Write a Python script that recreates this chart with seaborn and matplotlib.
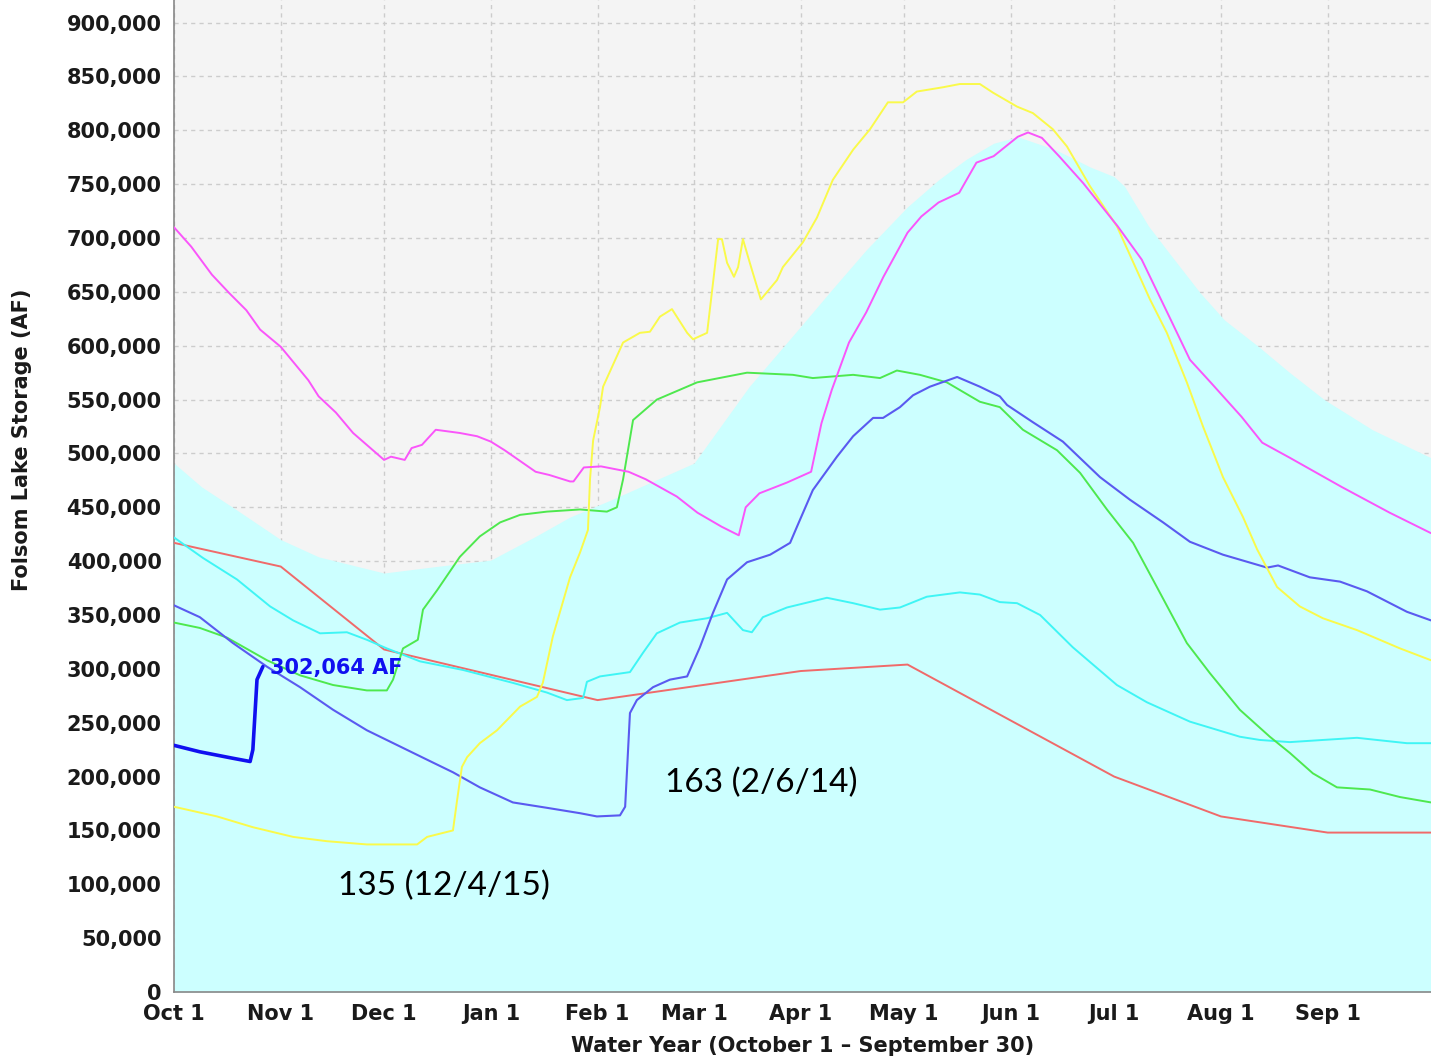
import numpy as np
import seaborn as sns
import matplotlib
matplotlib.use("Agg")
import matplotlib.pyplot as plt

sns.set_style("white")
plt.rcParams['font.family'] = ['DejaVu Sans']

# day of water year (0 = Oct 1), storage in thousand AF
month_days = [0, 31, 61, 92, 123, 151, 182, 212, 243, 273, 304, 335]
month_labels = ['Oct 1', 'Nov 1', 'Dec 1', 'Jan 1', 'Feb 1', 'Mar 1', 'Apr 1',
                'May 1', 'Jun 1', 'Jul 1', 'Aug 1', 'Sep 1']

# flood control envelope (filled area)
fill_days = [0, 8, 18, 31, 42, 61, 76, 92, 105, 115, 127, 151, 167, 182, 191, 201, 213, 222,
             230, 238, 245, 256, 266, 273, 276, 283, 289, 298, 305, 315, 324, 334, 348, 365]
fill_vals = [491, 469, 448, 420, 404, 389, 395, 401, 423, 441, 457, 491, 562, 618, 652, 689, 729, 754,
             773, 788, 794, 782, 766, 757, 748, 711, 686, 649, 624, 599, 575, 550, 522, 496]

magenta_days = [0, 5, 11, 16, 21, 25, 31, 39, 42, 47, 52, 61, 63, 67, 69, 72, 76, 83, 88, 92,
                96, 105, 109, 115, 116, 119, 124, 132, 137, 146, 152, 159, 164, 166, 170, 178, 185, 188, 191, 196,
                201, 206, 213, 217, 222, 228, 233, 238, 245, 248, 252, 257, 264, 274, 281, 289, 295, 301, 310, 316,
                324, 339, 353, 365]
magenta_vals = [710, 692, 666, 649, 633, 615, 599, 568, 553, 538, 519, 494, 497, 494, 505, 508, 522, 519, 516, 511,
                503, 483, 480, 474, 474, 487, 488, 483, 476, 460, 445, 432, 424, 450, 463, 473, 483, 528, 559, 603,
                631, 664, 705, 720, 733, 742, 770, 776, 794, 798, 793, 776, 751, 711, 680, 627, 587, 566, 534, 510,
                496, 469, 445, 426]

yellow_days = [0, 12.5, 22.9, 34.6, 44.4, 56, 70.6, 73.5, 81, 82.2, 83.6, 85.1, 88.8, 93.8, 100.5, 105.4, 107.1,
               110, 115, 117.9, 120.2, 120.8, 121.7, 123.7, 124.6, 130.4, 135.3, 138.2, 141.1, 144.6, 149, 150.7,
               154.8, 156.5, 158, 159.1, 160.6, 162.6, 163.8, 165.2, 167.2, 170.4, 175.1, 176.8, 182.6, 186.7,
               191.3, 197.2, 202.1, 207.3, 211.7, 215.7, 223.3, 228.2, 234, 237.8, 244.8, 249.4, 255.2, 259.3,
               266, 273.8, 283.4, 288.3, 294.1, 298.8, 304.6, 310.4, 314.5, 320.3, 326.9, 333.6, 343.5, 356, 365]
yellow_vals = [172, 163, 153, 144, 140, 137, 137, 144, 150, 178, 209, 218, 231, 243, 265, 274, 287,
               330, 385, 408, 429, 476, 512, 543, 562, 603, 612, 613, 627, 634, 612, 606,
               612, 658, 699, 699, 677, 664, 673, 699, 677, 643, 661, 673, 696, 719,
               754, 782, 801, 826, 826, 836, 840, 843, 843, 835, 822, 816, 801, 785,
               748, 711, 643, 612, 566, 525, 478, 441, 411, 376, 358, 347, 336, 319, 308]

green_days = [0, 7.5, 15.4, 27, 36.6, 46.2, 56, 61.8, 63.6, 66.5, 70.8, 72.3, 76.4, 83, 88.8, 94.7, 100.5,
              108.3, 117.9, 125.7, 128.6, 130.4, 133.3, 140.2, 151.9, 166.4, 179.7, 185.5, 197.2, 205, 209.9,
              216.6, 224.4, 234, 239.8, 246.5, 256.4, 263.1, 270.9, 278.5, 285.4, 294.1, 300.8, 309.5, 318.2,
              324, 330.7, 337.7, 347.3, 356, 365]
green_vals = [343, 338, 329, 308, 294, 285, 280, 280, 290, 319, 327, 355, 373, 404, 423, 436, 443,
              446, 448, 446, 450, 476, 531, 550, 566, 575, 573, 570, 573, 570, 577,
              573, 566, 548, 543, 522, 503, 482, 448, 417, 376, 324, 296, 262, 237,
              222, 203, 190, 188, 181, 176]

blue_days = [0, 7.5, 17.1, 27, 36.6, 46.2, 56, 65.6, 75.2, 81, 88.8, 98.4, 108.3, 117.9, 122.8, 129.5, 131,
             132.4, 134.4, 139.1, 144, 149, 152.7, 156.5, 160.6, 166.4, 173.1, 178.9, 180.9, 185.5, 192.5,
             197.2, 203, 205.9, 210.8, 214.6, 219.5, 227.4, 234, 239.8, 241.9, 249.4, 258.1, 268.9, 277.6,
             287.2, 295, 304.6, 317.4, 320.6, 329.8, 338.6, 346.4, 358, 365]
blue_vals = [359, 348, 324, 302, 283, 262, 243, 228, 213, 204, 190, 176, 171, 166, 163, 164, 172,
             259, 271, 283, 290, 293, 320, 352, 383, 399, 406, 417, 432, 466, 497,
             516, 533, 533, 543, 554, 562, 571, 562, 553, 545, 529, 511, 478, 457,
             436, 418, 406, 394, 396, 385, 381, 372, 353, 345]

cyan_days = [0, 8.4, 18.3, 27.9, 34.6, 42.4, 50.2, 56, 61.8, 71.4, 83.9, 98.4, 108.3, 114.1, 118.8, 119.9,
             123.7, 132.4, 136.2, 140.2, 146.9, 154.8, 160.6, 165.2, 167.8, 171, 178, 189.6, 197.2, 205,
             210.8, 218.6, 228.2, 234, 239.8, 244.8, 251.5, 261, 273.8, 282.5, 295, 309.5, 315.3, 324,
             333.6, 343.5, 358, 365]
cyan_vals = [422, 403, 383, 358, 345, 333, 334, 327, 319, 307, 299, 287, 278, 271, 273, 288,
             293, 297, 315, 333, 343, 347, 352, 336, 334, 348, 357, 366, 361, 355,
             357, 367, 371, 369, 362, 361, 350, 320, 285, 269, 251, 237, 234, 232,
             234, 236, 231, 231]

red_days = [0, 31, 61, 123, 182, 213, 273, 304, 335, 365]
red_vals = [417, 395, 318, 271, 298, 304, 200, 163, 148, 148]

current_days = [0, 7.5, 17.1, 22.1, 22.9, 24.1, 25.8]
current_vals = [229, 223, 217, 214, 225, 290, 302.064]

fig = plt.figure(figsize=(14.31, 10.59), dpi=100)
fig.patch.set_facecolor('white')
ax = fig.add_axes([174 / 1431, 67 / 1059, 1257 / 1431, 992 / 1059])
ax.set_facecolor('#f4f4f4')

ax.fill_between(np.array(fill_days), np.array(fill_vals) * 1000, 0, color='#ccffff', linewidth=0, zorder=1)

series = [
    (red_days, red_vals, '#f06a6a', 1.4),
    (cyan_days, cyan_vals, '#3ff5f5', 1.4),
    (green_days, green_vals, '#4ee84e', 1.4),
    (blue_days, blue_vals, '#5a5af0', 1.5),
    (yellow_days, yellow_vals, '#fafa4a', 1.4),
    (magenta_days, magenta_vals, '#fa55fa', 1.4),
    (current_days, current_vals, '#1010f0', 2.6),
]
for d, v, c, lw in series:
    sns.lineplot(x=np.array(d), y=np.array(v) * 1000, color=c, linewidth=lw, ax=ax, sort=False, zorder=3)

ax.set_xlim(0, 365)
ax.set_ylim(0, 921000)

yt = np.arange(0, 900001, 50000)
ax.set_yticks(yt)
ax.set_yticklabels([f"{v:,}" for v in yt], fontweight='bold', fontsize=15, color='#1a1a1a')
ax.set_xticks(month_days)
ax.set_xticklabels(month_labels, fontweight='bold', fontsize=15, color='#1a1a1a')
ax.tick_params(axis='both', length=4, width=1, color='#888888', pad=5)

ax.grid(True, color='#cccccc', linestyle=(0, (3, 3)), linewidth=1)
ax.set_axisbelow(True)
for s in ['top', 'right']:
    ax.spines[s].set_visible(False)
for s in ['left', 'bottom']:
    ax.spines[s].set_color('#888888')
    ax.spines[s].set_linewidth(1.2)
ax.set_xlabel('')
ax.set_ylabel('')

ax.text(27.9, 301000, '302,064 AF', color='#1010f0', fontsize=15, fontweight='bold', va='center', ha='left', zorder=4)
ax.text(142.6, 194000, '163 (2/6/14)', family=['Lato', 'DejaVu Sans'], fontsize=24, color='black', va='center', ha='left')
ax.text(47.6, 98500, '135 (12/4/15)', family=['Lato', 'DejaVu Sans'], fontsize=24, color='black', va='center', ha='left')

fig.text(22 / 1431, 1 - 440 / 1059, 'Folsom Lake Storage (AF)', rotation=90, fontsize=15, fontweight='bold',
         ha='center', va='center', color='#1a1a1a')
fig.text(803 / 1431, 1 - 1046 / 1059, 'Water Year (October 1 \u2013 September 30)', fontsize=15, fontweight='bold',
         ha='center', va='center', color='#1a1a1a')

fig.savefig('out.png', dpi=100)
